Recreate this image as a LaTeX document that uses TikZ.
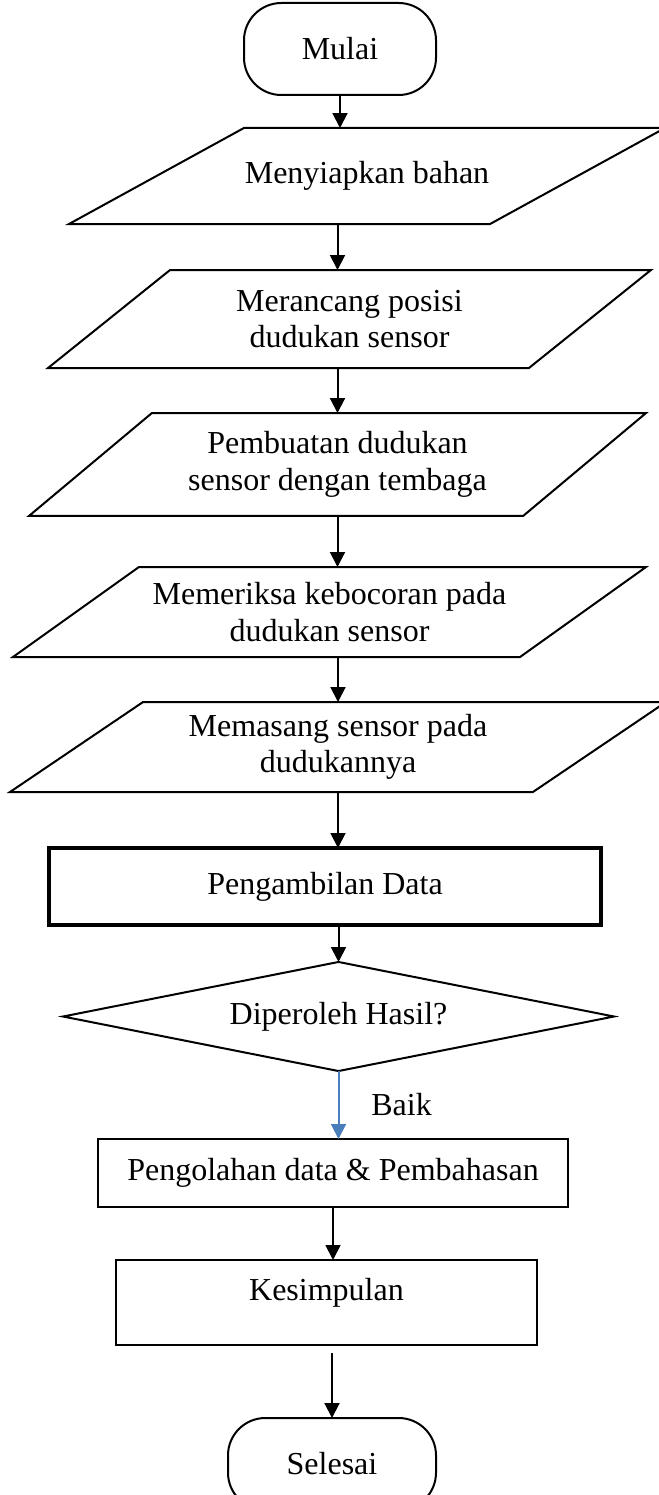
\documentclass[tikz,border=0pt]{standalone}
\usepackage{fontspec}
\setmainfont{Liberation Serif}
\usetikzlibrary{shapes.geometric}
\usetikzlibrary{arrows.meta}
\definecolor{baikblue}{RGB}{74,126,187}

\begin{document}
\begin{tikzpicture}[x=0.375pt, y=-0.375pt, line width=0.75pt, outer sep=0,
        font=\fontsize{12pt}{13.7pt}\selectfont,
        >={Triangle[length=5.6pt, width=5.6pt]},
        terminal/.style={draw, rectangle, rounded corners=14pt, minimum height=34.5pt},
        io/.style={rectangle, inner sep=2pt, align=center},
        process/.style={draw, rectangle, align=center},
        decision/.style={draw, diamond, aspect=5.05, inner sep=1pt}]
        \useasboundingbox (0,0) rectangle (659,1495);
        % start
        \node [terminal, minimum width=72pt] (1) at (340,49) {Mulai};
        % input boxes
        \node [io, minimum width=223.5pt, minimum height=36pt] (2) at (367,176) {Menyiapkan bahan};
        \node [io, minimum width=226.1pt, minimum height=36.75pt] (3) at (349.5,319) {Merancang posisi\\dudukan sensor};
        \node [io, minimum width=231.4pt, minimum height=38.6pt] (4) at (337.5,464.5) {Pembuatan dudukan\\sensor dengan tembaga};
        \node [io, minimum width=237.4pt, minimum height=33.75pt] (5) at (329.5,612) {Memeriksa kebocoran pada\\dudukan sensor};
        \node [io, minimum width=246pt, minimum height=33.75pt] (6) at (338,747) {Memasang sensor pada\\dudukannya};
        \draw (2.south west) -- ([xshift=65.6pt]2.north west) -- (2.north east) -- ([xshift=-65.6pt]2.south east) -- cycle;
        \draw (3.south west) -- ([xshift=45.75pt]3.north west) -- (3.north east) -- ([xshift=-45.75pt]3.south east) -- cycle;
        \draw (4.south west) -- ([xshift=46.1pt]4.north west) -- (4.north east) -- ([xshift=-46.1pt]4.south east) -- cycle;
        \draw (5.south west) -- ([xshift=47.25pt]5.north west) -- (5.north east) -- ([xshift=-47.25pt]5.south east) -- cycle;
        \draw (6.south west) -- ([xshift=49.9pt]6.north west) -- (6.north east) -- ([xshift=-49.9pt]6.south east) -- cycle;
        \draw[->] (1.south) -- (1.south |- 2.north);
        \draw[->] (4 |- 2.south) -- (4 |- 3.north);
        \draw[->] (4 |- 3.south) -- (4.north);
        \draw[->] (4.south) -- (4.south |- 5.north);
        \draw[->] (6 |- 5.south) -- (6.north);
        % data and check
        \node [process, line width=1.5pt, minimum width=206.8pt, minimum height=28.9pt] (7) at (325,886.5) {Pengambilan Data};
        \node [decision, minimum width=206.6pt, minimum height=40.9pt] (8) at (338.5,1016.5) {Diperoleh Hasil?};
        \draw[->] (6.south) -- (6.south |- 7.north);
        \draw[->] (8.north |- 7.south) -- (8.north);
        % result boxes
        \node [process, minimum width=176.25pt, minimum height=25.5pt] (9) at (333,1173) {Pengolahan data \& Pembahasan};
        \node [process, text depth=9.5pt, minimum width=157.9pt, minimum height=31.9pt] (10) at (326.5,1302.5) {Kesimpulan};
        \node [terminal, minimum width=78pt] (11) at (332,1464) {Selesai};
        \draw[->, baikblue] (8.south) -- (8.south |- 9.north) node [midway, right=9pt, text=black] {Baik};
        \draw[->] (9.south) -- (9.south |- 10.north);
        \draw[->, shorten <=3pt] (11.north |- 10.south) -- (11.north);
\end{tikzpicture}
\end{document}
